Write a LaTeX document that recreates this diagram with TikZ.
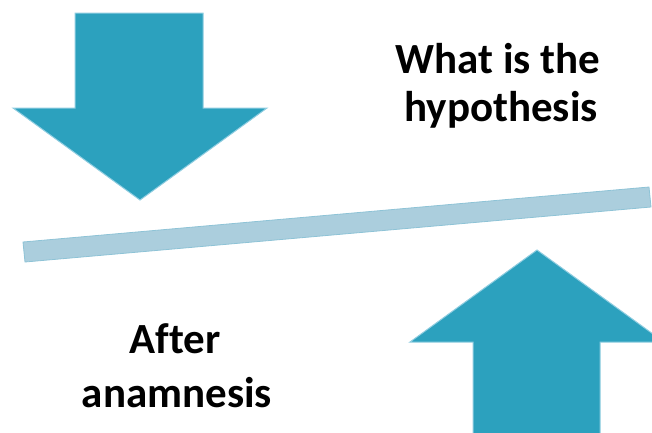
\documentclass[tikz,border=0pt]{standalone}
\usepackage{fontspec}
\setmainfont[Ligatures=NoCommon]{Carlito}
\definecolor{arrowfill}{HTML}{2CA1BE}
\definecolor{arrowedge}{HTML}{8FCDE0}
\definecolor{barfill}{HTML}{ABCEDD}
\definecolor{baredge}{HTML}{8EC3D6}
\begin{document}
\begin{tikzpicture}[x=1pt,y=-1pt,
  blockarrow/.style={fill=arrowfill,draw=arrowedge,line width=1pt,line join=miter},
  balancebar/.style={fill=barfill,draw=baredge,line width=0.8pt},
  caption/.style={font=\bfseries\fontsize{43}{43}\selectfont,anchor=base,inner sep=0pt}]
  \useasboundingbox (0,0) rectangle (652,432);
  % downward arrow, top left
  \draw[blockarrow] (75,13) -- (203,13) -- (203,108) -- (267,108) -- (140,200)
    -- (13,108) -- (75,108) -- cycle;
  % upward arrow, bottom right
  \draw[blockarrow] (473,440) -- (473,342) -- (410,342) -- (537,250) -- (664,342)
    -- (600,342) -- (600,440) -- cycle;
  % tilted bar between the arrows
  \draw[balancebar] (23,242) -- (649,187) -- (651,207) -- (25,262) -- cycle;
  % captions
  \node[caption] (q1) at (498,73) {What is the};
  \node[caption] (q2) at (501,121) {hypothesis};
  \node[caption] (a1) at (175,353) {After};
  \node[caption] (a2) at (177,407) {anamnesis};
\end{tikzpicture}
\end{document}
